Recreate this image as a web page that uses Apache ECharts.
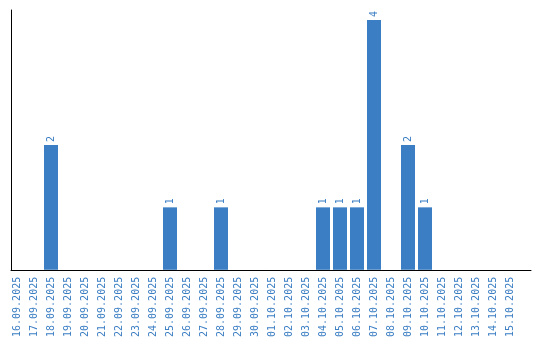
<!DOCTYPE html>
<html><head><meta charset="utf-8">
<script src="https://cdn.jsdelivr.net/npm/echarts@6/dist/echarts.min.js"></script>
<style>html,body{margin:0;padding:0;background:#fff}#c{width:540px;height:340px}</style>
</head><body><div id="c"></div>
<script>
var categories = ['16.09.2025','17.09.2025','18.09.2025','19.09.2025','20.09.2025','21.09.2025','22.09.2025','23.09.2025','24.09.2025','25.09.2025','26.09.2025','27.09.2025','28.09.2025','29.09.2025','30.09.2025','01.10.2025','02.10.2025','03.10.2025','04.10.2025','05.10.2025','06.10.2025','07.10.2025','08.10.2025','09.10.2025','10.10.2025','11.10.2025','12.10.2025','13.10.2025','14.10.2025','15.10.2025'];
var values = [0,0,2,0,0,0,0,0,0,1,0,0,1,0,0,0,0,0,1,1,1,4,0,2,1,0,0,0,0,0];

var blue = '#3b7ec3';
var font = 'DejaVu Sans Mono';
var chart = echarts.init(document.getElementById('c'), null, {renderer:'canvas'});
chart.setOption({
  animation: false,
  grid: [
    {left: 8.5, width: 510, top: 20, bottom: 70, containLabel: false},
    {left: 11, right: 9, top: 10, bottom: 70, containLabel: false}
  ],
  xAxis: [
    {type: 'category', data: categories, gridIndex: 0,
     axisLine: {show: false}, axisTick: {show: false}, splitLine: {show: false},
     axisLabel: {rotate: 90, interval: 0, margin: 7, color: blue, fontFamily: font, fontSize: 10}},
    {type: 'value', gridIndex: 1, min: 0, max: 1,
     axisLine: {show: true, onZero: false, lineStyle: {color: '#000', width: 1}},
     axisTick: {show: false}, axisLabel: {show: false}, splitLine: {show: false}}
  ],
  yAxis: [
    {type: 'value', gridIndex: 0, min: 0, max: 4,
     axisLine: {show: false}, axisTick: {show: false}, axisLabel: {show: false}, splitLine: {show: false}},
    {type: 'value', gridIndex: 1, min: 0, max: 1,
     axisLine: {show: true, onZero: false, lineStyle: {color: '#000', width: 1}},
     axisTick: {show: false}, axisLabel: {show: false}, splitLine: {show: false}}
  ],
  series: [{
    type: 'bar', xAxisIndex: 0, yAxisIndex: 0,
    data: values.map(function(v){ return v === 0 ? null : v; }),
    barWidth: 14,
    itemStyle: {color: blue},
    label: {show: true, position: 'top', rotate: 90, align: 'left', verticalAlign: 'middle',
            distance: 3, color: blue, fontFamily: font, fontSize: 10}
  }]
});
</script></body></html>
